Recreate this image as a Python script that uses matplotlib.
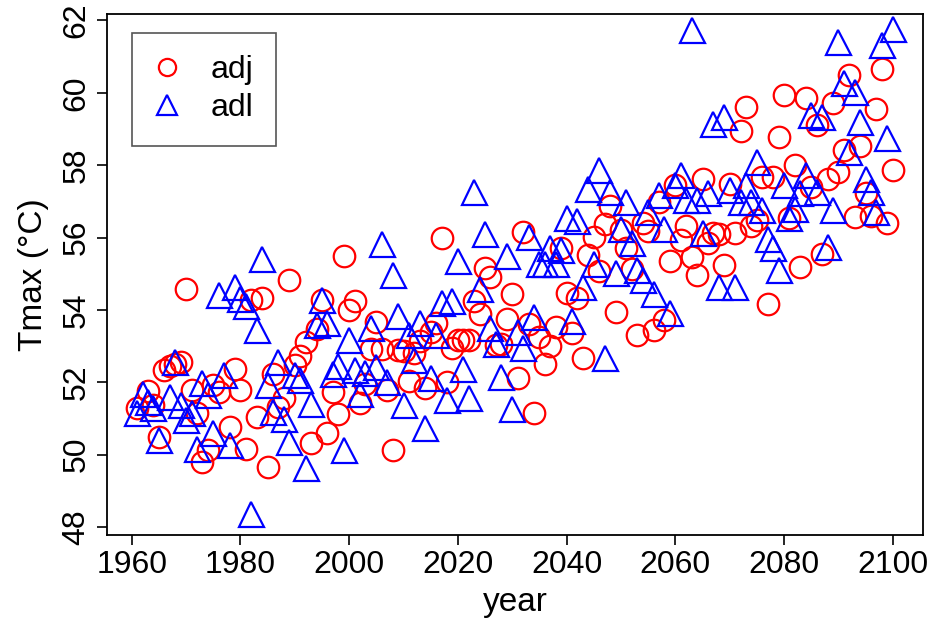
import matplotlib
matplotlib.use("Agg")
import matplotlib.pyplot as plt

plt.rcParams['font.family'] = ['Liberation Sans', 'DejaVu Sans']

# adj series (circles)
adj_year = [1961, 1963, 1964, 1965, 1966, 1967, 1968, 1969, 1970, 1971,
            1972, 1973, 1974, 1975, 1976, 1978, 1979, 1980, 1981, 1982,
            1983, 1984, 1985, 1986, 1987, 1988, 1989, 1990, 1991, 1992,
            1993, 1994, 1995, 1996, 1997, 1998, 1999, 2000, 2001, 2002,
            2003, 2004, 2005, 2006, 2007, 2008, 2009, 2010, 2011, 2012,
            2013, 2014, 2015, 2016, 2017, 2018, 2019, 2020, 2021, 2022,
            2023, 2024, 2025, 2026, 2027, 2028, 2029, 2030, 2031, 2032,
            2033, 2034, 2035, 2036, 2037, 2038, 2039, 2040, 2041, 2042,
            2043, 2044, 2045, 2046, 2047, 2048, 2049, 2050, 2051, 2052,
            2053, 2054, 2055, 2056, 2057, 2058, 2059, 2060, 2061, 2062,
            2063, 2064, 2065, 2066, 2067, 2068, 2069, 2070, 2071, 2072,
            2073, 2074, 2075, 2076, 2077, 2078, 2079, 2080, 2081, 2082,
            2083, 2084, 2085, 2086, 2087, 2088, 2089, 2090, 2091, 2092,
            2093, 2094, 2095, 2096, 2097, 2098, 2099, 2100]
adj_tmax = [51.30, 51.76, 51.37, 50.50, 52.33, 52.45, 52.52, 52.55, 54.57, 51.80,
            51.14, 49.80, 50.13, 51.92, 51.74, 50.77, 52.38, 51.78, 50.15, 54.27,
            51.03, 54.33, 49.65, 52.23, 51.32, 51.58, 54.84, 52.48, 52.72, 53.12,
            50.31, 53.46, 54.27, 50.59, 51.74, 51.12, 55.49, 53.99, 54.24, 51.43,
            51.95, 52.91, 53.67, 52.93, 51.80, 50.12, 52.89, 52.87, 52.04, 52.81,
            53.15, 51.83, 53.40, 53.64, 56.00, 52.01, 52.94, 53.17, 53.18, 53.17,
            54.25, 53.90, 55.15, 54.91, 53.03, 53.07, 53.74, 54.44, 52.11, 56.16,
            53.62, 51.14, 53.24, 52.50, 53.00, 53.53, 55.70, 54.47, 53.37, 54.32,
            52.66, 55.51, 56.02, 55.08, 56.37, 56.87, 53.95, 56.20, 55.70, 55.12,
            53.30, 56.41, 56.19, 53.44, 56.99, 53.72, 55.36, 57.45, 55.93, 56.31,
            55.47, 54.96, 57.63, 55.85, 56.13, 56.09, 55.24, 57.49, 56.13, 58.95,
            59.61, 56.31, 56.48, 57.68, 54.16, 57.68, 58.78, 59.93, 56.54, 58.00,
            55.19, 59.87, 57.40, 59.10, 55.54, 57.63, 59.72, 57.81, 58.43, 60.49,
            56.57, 58.52, 57.22, 56.59, 59.54, 60.67, 56.39, 57.86]

# adl series (triangles)
adl_year = [1961, 1962, 1963, 1964, 1965, 1967, 1968, 1969, 1970, 1971,
            1972, 1973, 1974, 1975, 1976, 1977, 1978, 1979, 1980, 1981,
            1982, 1983, 1984, 1985, 1986, 1987, 1988, 1989, 1990, 1991,
            1992, 1993, 1994, 1995, 1996, 1997, 1998, 1999, 2000, 2001,
            2002, 2003, 2004, 2005, 2006, 2007, 2008, 2009, 2010, 2011,
            2012, 2013, 2014, 2015, 2016, 2017, 2018, 2019, 2020, 2021,
            2022, 2023, 2024, 2025, 2026, 2027, 2028, 2029, 2030, 2031,
            2032, 2033, 2034, 2035, 2036, 2037, 2038, 2039, 2040, 2041,
            2042, 2043, 2044, 2045, 2046, 2047, 2048, 2049, 2050, 2051,
            2052, 2053, 2054, 2055, 2056, 2057, 2058, 2059, 2060, 2061,
            2062, 2063, 2064, 2065, 2066, 2067, 2068, 2069, 2070, 2071,
            2072, 2073, 2074, 2075, 2076, 2077, 2078, 2079, 2080, 2081,
            2082, 2083, 2084, 2085, 2086, 2087, 2088, 2089, 2090, 2091,
            2092, 2093, 2094, 2095, 2096, 2097, 2098, 2099, 2100]
adl_tmax = [51.16, 51.69, 51.46, 51.29, 50.40, 51.60, 52.57, 51.37, 50.96, 51.16,
            50.17, 51.97, 51.65, 50.59, 54.40, 52.20, 50.27, 54.64, 54.30, 54.10,
            48.35, 53.44, 55.40, 51.92, 51.18, 52.57, 51.00, 50.36, 52.20, 52.06,
            49.62, 51.40, 53.58, 54.27, 53.63, 52.23, 52.45, 50.13, 53.18, 52.34,
            51.69, 52.25, 53.49, 52.41, 55.82, 52.01, 54.97, 53.83, 51.37, 53.30,
            52.61, 53.64, 50.73, 52.11, 53.30, 54.20, 51.51, 54.25, 55.36, 52.38,
            51.56, 57.26, 54.57, 56.11, 53.49, 53.07, 52.15, 55.49, 51.25, 53.40,
            52.94, 56.02, 53.81, 55.28, 55.28, 55.70, 55.28, 55.65, 56.55, 53.70,
            56.46, 54.64, 57.33, 55.28, 57.86, 52.66, 57.26, 55.01, 56.25, 56.99,
            55.85, 55.10, 54.82, 56.71, 54.45, 57.17, 56.25, 53.92, 57.45, 57.72,
            57.05, 61.73, 57.05, 56.13, 57.22, 59.15, 54.64, 59.33, 57.31, 54.64,
            56.99, 57.45, 56.99, 58.09, 56.76, 55.97, 55.70, 55.10, 57.45, 56.53,
            56.80, 57.22, 57.72, 59.38, 57.26, 59.33, 55.74, 56.76, 61.41, 60.26,
            58.37, 60.03, 59.20, 57.63, 57.26, 56.71, 61.32, 58.74, 61.75]

xticks = [1960, 1980, 2000, 2020, 2040, 2060, 2080, 2100]
yticks = [48, 50, 52, 54, 56, 58, 60, 62]

fig = plt.figure(figsize=(9.38, 6.2), dpi=100)
ax = fig.add_axes([0.114, 0.137, 0.870, 0.840])

ax.plot(adj_year, adj_tmax, 'o', ls='none', mfc='none', mec='#ff0000',
        ms=15.5, mew=1.6, label='adj')
ax.plot(adl_year, adl_tmax, '^', ls='none', mfc='none', mec='#0000ff',
        ms=18, mew=1.6, label='adl')

ax.set_xlim(1955.44, 2105.56)
ax.set_ylim(47.78, 62.17)

ax.set_xticks(xticks)
ax.set_yticks(yticks)
ax.set_yticklabels([str(v) for v in yticks], rotation=90, va='center')
ax.tick_params(axis='both', labelsize=23, length=7, width=1.2, direction='out', pad=4)
for s in ax.spines.values():
    s.set_linewidth(1.3)

ax.set_xlabel('year', fontsize=24, labelpad=5)
ax.set_ylabel('Tmax (\u00b0C)', fontsize=24, labelpad=9)

leg = ax.legend(loc='upper left', bbox_to_anchor=(0.031, 0.964), borderaxespad=0,
                fontsize=23, frameon=True, fancybox=False, edgecolor='#555555',
                framealpha=1, borderpad=0.7, labelspacing=0.25,
                handletextpad=0.95, handlelength=0.8, markerscale=0.8)
leg.get_frame().set_linewidth(1.2)

fig.savefig('out.png', dpi=100)
